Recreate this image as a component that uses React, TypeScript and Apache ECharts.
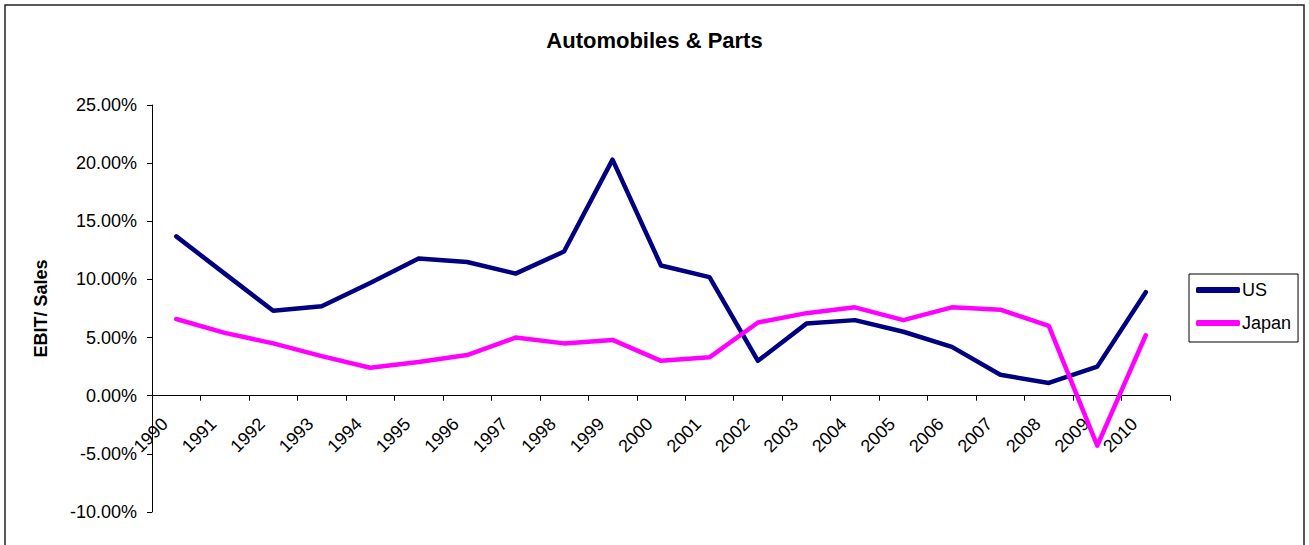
import React, { useEffect, useRef } from "react";
import * as echarts from "echarts";

const years = [
  "1990", "1991", "1992", "1993", "1994", "1995", "1996", "1997", "1998", "1999", "2000",
  "2001", "2002", "2003", "2004", "2005", "2006", "2007", "2008", "2009", "2010",
];
const usValues = [
  13.7, 10.5, 7.3, 7.7, 9.7, 11.8, 11.5, 10.5, 12.4, 20.3, 11.2,
  10.2, 3.0, 6.2, 6.5, 5.5, 4.2, 1.8, 1.1, 2.5, 8.9,
];
const japanValues = [
  6.6, 5.4, 4.5, 3.4, 2.4, 2.9, 3.5, 5.0, 4.5, 4.8, 3.0,
  3.3, 6.3, 7.1, 7.6, 6.5, 7.6, 7.4, 6.0, -4.3, 5.2,
];
const yMin = -10;
const yMax = 25;
const yStep = 5;

const FONT = "'Liberation Sans', Arial, sans-serif";

const GRID_TOP = 105;
const GRID_BOTTOM = 33;
const HEIGHT = 545;

export default function App() {
  const ref = useRef<HTMLDivElement>(null);
  useEffect(() => {
    if (!ref.current) return;
    const chart = echarts.init(ref.current, null, { renderer: "svg" });
    const gridH = HEIGHT - GRID_TOP - GRID_BOTTOM;
    const zeroFromBottom = (0 - yMin) / (yMax - yMin) * gridH;
    chart.setOption({
      animation: false,
      backgroundColor: "#ffffff",
      textStyle: { fontFamily: FONT },
      title: {
        text: "Automobiles & Parts",
        left: "center",
        top: 24,
        textStyle: { fontFamily: FONT, fontSize: 22, fontWeight: "bold", color: "#000" },
      },
      graphic: [
        {
          type: "rect",
          shape: { x: 5, y: 5, width: 1299, height: 600 },
          style: { fill: "none", stroke: "#222", lineWidth: 1.5 },
          silent: true,
        },
      ],
      legend: {
        orient: "vertical",
        left: 1189,
        top: 274,
        padding: [7, 7, 10, 7],
        itemGap: 15,
        itemWidth: 44,
        itemHeight: 6,
        icon: "roundRect",
        borderColor: "#000",
        borderWidth: 1,
        backgroundColor: "#fff",
        textStyle: { fontFamily: FONT, fontSize: 18, color: "#000", lineHeight: 18, padding: [0, 0, 0, -3] },
        data: ["US", "Japan"],
      },
      grid: {
        left: 152,
        right: 139,
        top: GRID_TOP,
        bottom: GRID_BOTTOM,
        containLabel: false,
        outerBoundsMode: "none",
      },
      xAxis: {
        type: "category",
        data: years,
        boundaryGap: true,
        offset: -zeroFromBottom,
        axisLine: { onZero: false, lineStyle: { color: "#000", width: 1 } },
        axisTick: { show: true, length: 5, inside: false, lineStyle: { color: "#000" } },
        axisLabel: {
          rotate: 45,
          interval: 0,
          margin: 14,
          padding: [0, 16, 0, 0],
          fontFamily: FONT,
          fontSize: 18,
          color: "#000",
        },
        splitLine: { show: false },
      },
      yAxis: {
        type: "value",
        min: yMin,
        max: yMax,
        interval: yStep,
        name: "EBIT/ Sales",
        nameLocation: "middle",
        nameGap: 102,
        nameTextStyle: { fontFamily: FONT, fontSize: 18, fontWeight: "bold", color: "#000" },
        axisLine: { show: true, lineStyle: { color: "#000", width: 1 } },
        axisTick: { show: true, length: 5, lineStyle: { color: "#000" } },
        axisLabel: {
          margin: 15,
          fontFamily: FONT,
          fontSize: 18,
          color: "#000",
          formatter: (v: number) => v.toFixed(2) + "%",
        },
        splitLine: { show: false },
      },
      series: [
        {
          name: "US",
          type: "line",
          data: usValues,
          symbol: "none",
          itemStyle: { color: "#000080" },
          lineStyle: { color: "#000080", width: 4.5, cap: "round", join: "round" },
        },
        {
          name: "Japan",
          type: "line",
          data: japanValues,
          symbol: "none",
          itemStyle: { color: "#FF00FF" },
          lineStyle: { color: "#FF00FF", width: 4.5, cap: "round", join: "round" },
        },
      ],
    });
    return () => chart.dispose();
  }, []);
  return (
    <div
      ref={ref}
      style={{ position: "fixed", left: 0, top: 0, width: 1309, height: 545, background: "#fff" }}
    />
  );
}
